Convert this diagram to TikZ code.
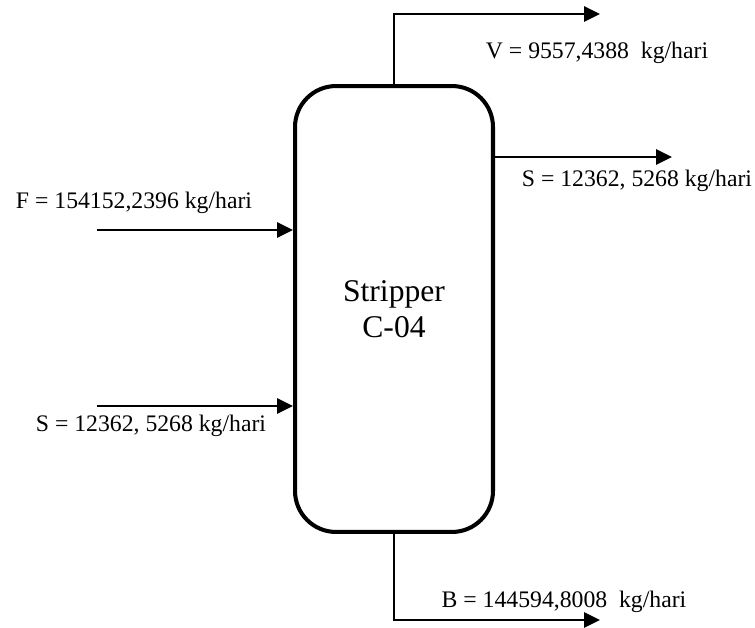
\documentclass[tikz,border=0pt]{standalone}
\usepackage{fontspec}
\setmainfont{Liberation Serif}
\usetikzlibrary{arrows.meta}

\begin{document}
\begin{tikzpicture}[
          x=0.02cm, y=-0.02cm,
          column/.style={draw, line width=2.3pt, rounded corners=0.82cm, minimum width=3.96cm, minimum height=8.92cm, align=center, inner sep=0pt, font=\fontsize{18}{20.6}\selectfont},
          stream/.style={-{Triangle[length=9pt, width=8.5pt]}, line width=1.4pt},
          flow/.style={inner sep=0pt, font=\fontsize{13.5}{16}\selectfont}
        ]
          \useasboundingbox (0,0) rectangle (755,628);

          % Column
          \node[column] (stripper) at (394,309) {Stripper\\C-04};

          % Stream ends
          \coordinate (vbend) at (394,14);
          \coordinate (vend) at (600,14);
          \coordinate (send) at (672,157);
          \coordinate (fstart) at (97,230);
          \coordinate (sstart) at (97,406);
          \coordinate (bbend) at (394,620);
          \coordinate (bend) at (600,620);

          % Labels
          \node[flow] (vlabel) at (597,53) {V = 9557,4388\ \ kg/hari};
          \node[flow] (slabel) at (637,181) {S = 12362, 5268 kg/hari};
          \node[flow] (flabel) at (134,203) {F = 154152,2396 kg/hari};
          \node[flow] (sinlabel) at (151,426) {S = 12362, 5268 kg/hari};
          \node[flow] (blabel) at (564,602) {B = 144594,8008\ \ kg/hari};

          % Streams
          \draw[stream] (stripper.north) -- (vbend) -- (vend);
          \draw[stream] (stripper.east |- send) -- (send);
          \draw[stream] (fstart) -- (fstart -| stripper.west);
          \draw[stream] (sstart) -- (sstart -| stripper.west);
          \draw[stream] (stripper.south) -- (bbend) -- (bend);
        \end{tikzpicture}
\end{document}
